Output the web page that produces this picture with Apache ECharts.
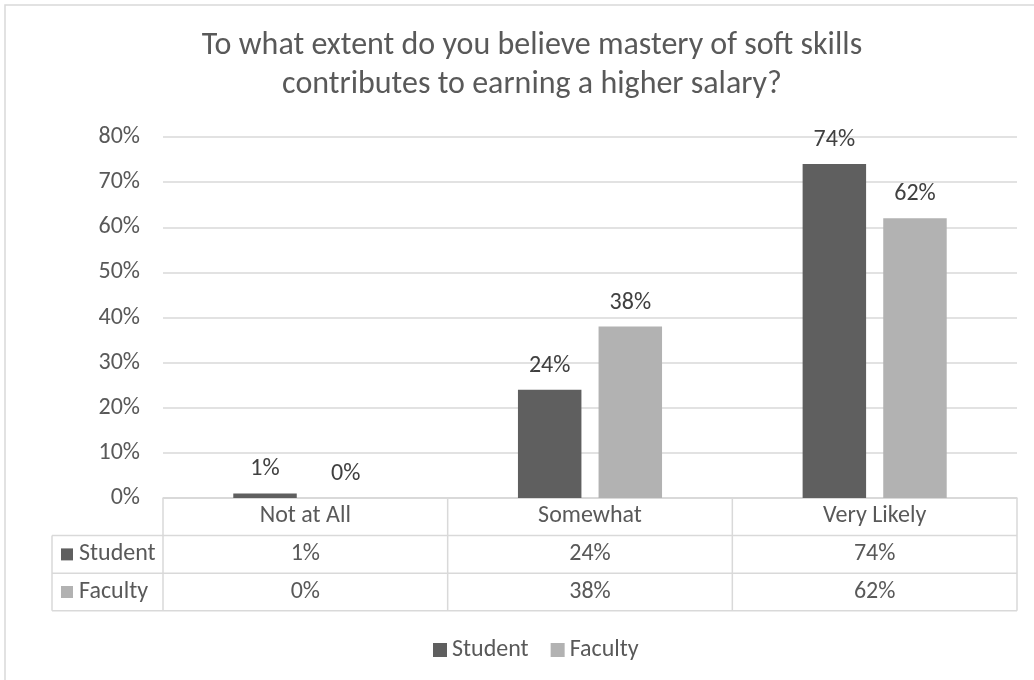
<!DOCTYPE html>
<html>
<head>
<meta charset="utf-8">
<title>Soft skills and salary</title>
<script src="https://cdn.jsdelivr.net/npm/echarts@6/dist/echarts.min.js"></script>
<style>
  html, body { margin: 0; padding: 0; background: #fff; }
  #chart { width: 1034px; height: 680px; }
</style>
</head>
<body>
<div id="chart"></div>
<script>
// Survey answers (percent of respondents)
const categories = ['Not at All', 'Somewhat', 'Very Likely'];
const seriesNames = ['Student', 'Faculty'];
const studentValues = [1, 24, 74];
const facultyValues = [0, 38, 62];
const yTickMin = 0;
const yTickMax = 80;
const yTickStep = 10;

const FONT = 'Carlito, Calibri, Lato, "Noto Sans", sans-serif';
const FS = 24;
const TEXT = '#595959';
const LINE = '#d9d9d9';
const COLORS = ['#5f5f5f', '#b2b2b2'];

const chart = echarts.init(document.getElementById('chart'));

const seriesData = [studentValues, facultyValues];

chart.setOption({
  animation: false,
  textStyle: { fontFamily: FONT },
  title: {
    text: 'To what extent do you believe mastery of soft skills\ncontributes to earning a higher salary?',
    left: 527,
    textAlign: 'center',
    top: 21,
    textStyle: { fontFamily: FONT, fontSize: 32, fontWeight: 'normal', color: TEXT, lineHeight: 39 }
  },
  legend: {
    data: seriesNames,
    left: 428,
    top: 633,
    itemWidth: 14,
    itemHeight: 14,
    itemGap: 22,
    icon: 'rect',
    textStyle: { fontFamily: FONT, fontSize: FS, color: TEXT }
  },
  grid: { left: 163, right: 17, top: 137, bottom: 182, containLabel: false },
  xAxis: {
    type: 'category',
    data: categories,
    axisLine: { show: true, lineStyle: { color: LINE, width: 1.5 } },
    axisTick: { show: false },
    axisLabel: { color: TEXT, fontFamily: FONT, fontSize: FS, margin: 6 },
    splitLine: { show: false }
  },
  yAxis: {
    type: 'value',
    min: yTickMin,
    max: yTickMax,
    interval: yTickStep,
    axisLine: { show: false },
    axisTick: { show: false },
    axisLabel: { color: TEXT, fontFamily: FONT, fontSize: FS, margin: 23, formatter: '{value}%' },
    splitLine: { lineStyle: { color: LINE, width: 1.5 } }
  },
  series: seriesNames.map((name, i) => ({
    name: name,
    type: 'bar',
    data: seriesData[i],
    barWidth: '22.3%',
    barGap: '27%',
    itemStyle: { color: COLORS[i] },
    label: {
      show: true,
      position: 'top',
      distance: 12,
      formatter: '{c}%',
      color: '#404040',
      fontFamily: FONT,
      fontSize: FS
    }
  }))
});

// Data table under the plot, laid out from the category axis bands
function drawTable() {
  const c0 = chart.convertToPixel({ xAxisIndex: 0 }, 0);
  const c1 = chart.convertToPixel({ xAxisIndex: 0 }, 1);
  const band = c1 - c0;
  const left = c0 - band / 2;
  const right = left + band * categories.length;
  const top = chart.convertToPixel({ yAxisIndex: 0 }, 0);
  const rowH = 37.6;
  const keyLeft = 52;
  const lineStyle = { stroke: LINE, lineWidth: 1.5 };
  const els = [];
  const hLine = (x1, x2, y) => els.push({ type: 'line', shape: { x1, y1: y, x2, y2: y }, style: lineStyle, silent: true });
  const vLine = (x, y1, y2) => els.push({ type: 'line', shape: { x1: x, y1, x2: x, y2 }, style: lineStyle, silent: true });

  // outer chart frame
  els.push({ type: 'rect', shape: { x: 5, y: 5, width: 1100, height: 800 }, style: { fill: 'none', stroke: LINE, lineWidth: 1.5 }, silent: true, z: -1 });

  hLine(left, right, top);
  hLine(keyLeft, right, top + rowH);
  hLine(keyLeft, right, top + rowH * 2);
  hLine(keyLeft, right, top + rowH * 3);
  vLine(keyLeft, top + rowH, top + rowH * 3);
  for (let k = 0; k <= categories.length; k++) {
    vLine(left + band * k, top, top + rowH * 3);
  }

  seriesNames.forEach((name, r) => {
    const cy = top + rowH * (r + 1.5);
    els.push({ type: 'rect', shape: { x: 61, y: cy - 6, width: 12, height: 12 }, style: { fill: COLORS[r] }, silent: true });
    els.push({ type: 'text', x: 79, y: cy, style: { text: name, fill: TEXT, font: FS + 'px ' + FONT, textVerticalAlign: 'middle' }, silent: true });
    seriesData[r].forEach((v, k) => {
      els.push({
        type: 'text',
        x: chart.convertToPixel({ xAxisIndex: 0 }, k),
        y: cy,
        style: { text: v + '%', fill: TEXT, font: FS + 'px ' + FONT, textAlign: 'center', textVerticalAlign: 'middle' },
        silent: true
      });
    });
  });

  chart.setOption({ graphic: els });
}
drawTable();
</script>
</body>
</html>
